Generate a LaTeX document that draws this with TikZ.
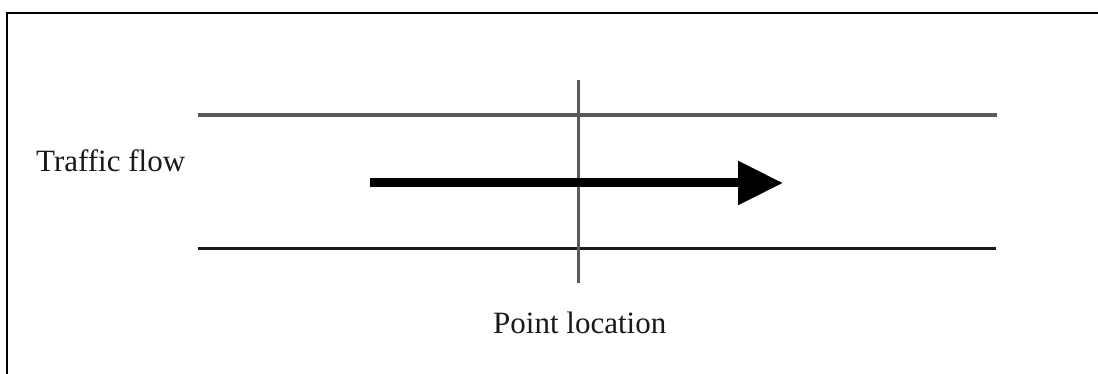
\documentclass[tikz,border=0pt]{standalone}
\usepackage{fontspec}
\setmainfont{Liberation Serif}
\usetikzlibrary{arrows.meta}
\definecolor{roadgray}{HTML}{5A5A5A}
\definecolor{roadblack}{HTML}{1A1A1A}
\begin{document}
\begin{tikzpicture}[x=1pt,y=-1pt,
  framestyle/.style={line width=2pt, black},
  upperroad/.style={line width=4pt, roadgray},
  lowerroad/.style={line width=3pt, roadblack},
  pointline/.style={line width=3pt, roadgray},
  flowarrow/.style={line width=9pt, black, -{Triangle[length=45pt,width=42pt]}},
  labeltext/.style={inner sep=0pt, anchor=base west, font=\fontsize{31}{36}\selectfont, text=black!90}]
\useasboundingbox (0,0) rectangle (1098,374);
% frame
\coordinate (fbl) at (7,380);
\coordinate (ftl) at (7,13);
\coordinate (ftr) at (1105,13);
\draw[framestyle] (fbl) -- (ftl) -- (ftr);
% road edges
\coordinate (ul) at (198,115);
\coordinate (ur) at (997,115);
\coordinate (ll) at (198,249);
\coordinate (lr) at (996,249);
\draw[upperroad] (ul) -- (ur);
\draw[lowerroad] (ll) -- (lr);
% point location line
\coordinate (pt) at (578,80);
\coordinate (pb) at (578,283);
\draw[pointline] (pt) -- (pb);
% flow arrow
\coordinate (as) at (370,183);
\coordinate (ae) at (783,183);
\draw[flowarrow] (as) -- (ae);
% labels
\node[labeltext] (tf) at (36,172) {Traffic flow};
\node[labeltext] (pl) at (493,333) {Point location};
\end{tikzpicture}
\end{document}
